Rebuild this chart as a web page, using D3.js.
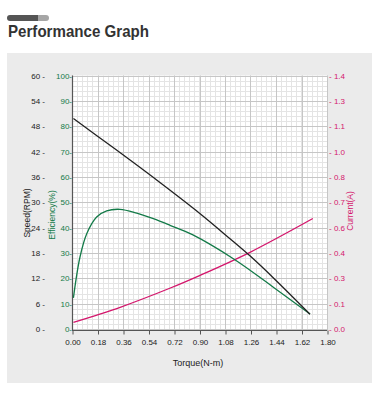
<!DOCTYPE html>
<html><head><meta charset="utf-8">
<script src="https://cdn.jsdelivr.net/npm/d3@7/dist/d3.min.js"></script>
<style>
html,body{margin:0;padding:0;background:#fff;}
svg{display:block;}
text{font-family:"Liberation Sans",Arial,sans-serif;}
</style></head>
<body>
<svg id="chart" width="382" height="397"></svg>
<script>
// ---- data ----
const torqueTicks = [0, 0.18, 0.36, 0.54, 0.72, 0.90, 1.08, 1.26, 1.44, 1.62, 1.80];
const speedTicks = [0, 6, 12, 18, 24, 30, 36, 42, 48, 54, 60];
const efficiencyTicks = [0, 10, 20, 30, 40, 50, 60, 70, 80, 90, 100];
const currentTickValues = [0, 0.14, 0.28, 0.42, 0.56, 0.70, 0.84, 0.98, 1.12, 1.26, 1.40];
const currentTickLabels = ["0.0", "0.1", "0.3", "0.4", "0.6", "0.7", "0.8", "1.0", "1.1", "1.3", "1.4"];

const speedTorque = [0.01, 0.30, 0.60, 0.90, 1.10, 1.26, 1.44, 1.68];
const speedValues = [49.8, 42.7, 35.2, 27.4, 21.8, 17.2, 11.5, 3.5];

const effTorque = [0.01, 0.056, 0.104, 0.174, 0.245, 0.339, 0.457, 0.574, 0.692, 0.85, 1.139, 1.421, 1.68];
const effValues = [12.3, 28.3, 37.6, 44.2, 46.6, 47.2, 45.7, 43.5, 40.9, 37.2, 27.7, 16.5, 5.9];

const currTorque = [0.01, 0.34, 0.69, 0.90, 1.26, 1.70];
const currValues = [0.037, 0.12, 0.225, 0.295, 0.425, 0.61];

// ---- layout ----
const svg = d3.select("#chart");
const L = 72, R = 327, T = 75.5, B = 329, AX = 330.5;
const green = "#137a48", magenta = "#d4166c", dark = "#222";

// header
const defs = svg.append("defs");
const cp = defs.append("clipPath").attr("id", "pill");
cp.append("rect").attr("x", 7).attr("y", 15).attr("width", 42).attr("height", 6).attr("rx", 3);
const pill = svg.append("g").attr("clip-path", "url(#pill)");
pill.append("rect").attr("x", 7).attr("y", 15).attr("width", 31).attr("height", 6).attr("fill", "#555");
pill.append("rect").attr("x", 38).attr("y", 15).attr("width", 11).attr("height", 6).attr("fill", "#a6a6a6");

svg.append("text").attr("x", 8).attr("y", 37)
  .attr("font-family", "'Open Sans', 'Noto Sans', sans-serif").attr("font-weight", 600)
  .attr("font-size", 16.5).attr("fill", "#333")
  .attr("textLength", 141).attr("lengthAdjust", "spacingAndGlyphs")
  .text("Performance Graph");

// panel
svg.append("rect").attr("x", 7).attr("y", 53).attr("width", 365).attr("height", 330).attr("fill", "#ebebeb");

// scales
const x = d3.scaleLinear().domain([0, 1.8]).range([L, R]);
const ySpeed = d3.scaleLinear().domain([0, 60]).range([B, T]);
const yEff = d3.scaleLinear().domain([0, 100]).range([B, T]);
const yCurr = d3.scaleLinear().domain([0, 1.4]).range([B, T]);

// plot bg
svg.append("rect").attr("x", L).attr("y", T).attr("width", R - L).attr("height", AX - T).attr("fill", "#fff");

// grid
const grid = svg.append("g");
const minorX = d3.range(0, 1.8001, 0.036);
const minorY = d3.range(0, 100.001, 2);
grid.selectAll(".mx").data(minorX).join("line")
  .attr("x1", d => Math.round(x(d)) + 0.5).attr("x2", d => Math.round(x(d)) + 0.5)
  .attr("y1", T).attr("y2", AX).attr("stroke", "#e4e4e4").attr("stroke-width", 1);
grid.selectAll(".my").data(minorY).join("line")
  .attr("y1", d => Math.round(yEff(d)) + 0.5).attr("y2", d => Math.round(yEff(d)) + 0.5)
  .attr("x1", L).attr("x2", R).attr("stroke", "#e4e4e4").attr("stroke-width", 1);
grid.selectAll(".Mx").data(torqueTicks).join("line")
  .attr("x1", d => Math.round(x(d)) + 0.5).attr("x2", d => Math.round(x(d)) + 0.5)
  .attr("y1", T).attr("y2", AX).attr("stroke", "#c6c6c6").attr("stroke-width", 1);
grid.selectAll(".My").data(efficiencyTicks).join("line")
  .attr("y1", d => Math.round(yEff(d)) + 0.5).attr("y2", d => Math.round(yEff(d)) + 0.5)
  .attr("x1", L).attr("x2", R).attr("stroke", "#c6c6c6").attr("stroke-width", 1);

// axes lines
svg.append("line").attr("x1", L + 0.5).attr("x2", L + 0.5).attr("y1", T).attr("y2", AX)
  .attr("stroke", "#555").attr("stroke-width", 1.2);
svg.append("line").attr("x1", L).attr("x2", R).attr("y1", AX).attr("y2", AX)
  .attr("stroke", "#555").attr("stroke-width", 1.2);

function styleAxis(g, color, size) {
  g.select(".domain").remove();
  g.selectAll("text").attr("fill", color).attr("font-size", size)
    .attr("font-family", "'Liberation Sans', Arial, sans-serif");
}

// bottom axis
const xAxis = svg.append("g").attr("transform", `translate(0.5,${AX})`)
  .call(d3.axisBottom(x).tickValues(torqueTicks).tickFormat(d3.format(".2f")).tickSize(4).tickPadding(5));
styleAxis(xAxis, "#222", 8);
xAxis.selectAll("line").attr("stroke", "#555");

// speed axis
const sAxis = svg.append("g").attr("transform", "translate(45,0)")
  .call(d3.axisLeft(ySpeed).tickValues(speedTicks).tickFormat(d => d + " -").tickSize(0).tickPadding(0));
styleAxis(sAxis, "#222", 8);

// efficiency axis
const eAxis = svg.append("g").attr("transform", `translate(${L},0)`)
  .call(d3.axisLeft(yEff).tickValues(efficiencyTicks).tickFormat(d => d + "-").tickSize(0).tickPadding(0));
styleAxis(eAxis, green, 8);

// current axis
const cAxis = svg.append("g").attr("transform", `translate(${R},0)`)
  .call(d3.axisRight(yCurr).tickValues(currentTickValues)
    .tickFormat((d, i) => "- " + currentTickLabels[i]).tickSize(0).tickPadding(2));
styleAxis(cAxis, magenta, 8);

// axis titles
svg.append("text").attr("transform", "translate(30,213) rotate(-90)")
  .attr("text-anchor", "middle").attr("font-size", 8.5).attr("fill", "#222").text("Speed(RPM)");
svg.append("text").attr("transform", "translate(55,215) rotate(-90)")
  .attr("text-anchor", "middle").attr("font-size", 8.5).attr("fill", green).text("Efficiency(%)");
svg.append("text").attr("transform", "translate(353,211) rotate(-90)")
  .attr("text-anchor", "middle").attr("font-size", 8.5).attr("fill", magenta).text("Current(A)");
svg.append("text").attr("x", 198).attr("y", 366)
  .attr("text-anchor", "middle").attr("font-size", 9).attr("fill", "#222").text("Torque(N-m)");

// curves
function drawCurve(tx, vy, scale, color) {
  const pts = tx.map((t, i) => [t, vy[i]]);
  const line = d3.line().x(d => x(d[0])).y(d => scale(d[1])).curve(d3.curveCatmullRom.alpha(0.5));
  svg.append("path").datum(pts).attr("d", line).attr("fill", "none")
    .attr("stroke", color).attr("stroke-width", 1.3);
}
drawCurve(currTorque, currValues, yCurr, magenta);
drawCurve(effTorque, effValues, yEff, green);
drawCurve(speedTorque, speedValues, ySpeed, dark);
</script>
</body></html>
